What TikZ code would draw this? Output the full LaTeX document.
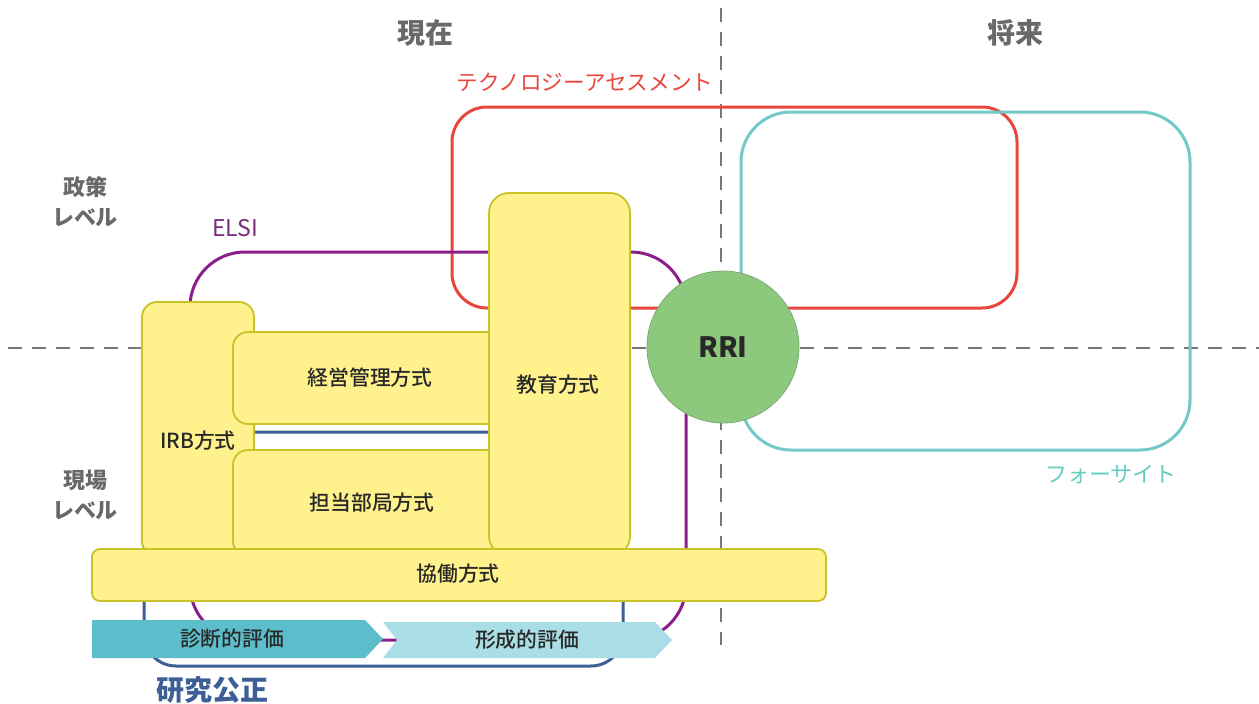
\documentclass[tikz,border=0pt]{standalone}
\usepackage{fontspec}
\newfontfamily\jp{Noto Sans CJK JP}
\newfontfamily\jpm{Noto Sans CJK JP Medium}
\definecolor{axisgray}{RGB}{120,120,120}
\definecolor{labgray}{RGB}{105,105,105}
\definecolor{tared}{RGB}{232,70,60}
\definecolor{fsteal}{RGB}{115,200,200}
\definecolor{fslab}{RGB}{100,205,190}
\definecolor{elsipurple}{RGB}{140,30,140}
\definecolor{elsilab}{RGB}{120,45,120}
\definecolor{riblue}{RGB}{60,95,150}
\definecolor{yfill}{RGB}{255,242,140}
\definecolor{yborder}{RGB}{200,195,40}
\definecolor{rrigreen}{RGB}{141,201,125}
\definecolor{rriborder}{RGB}{125,170,115}
\definecolor{chevdark}{RGB}{92,190,202}
\definecolor{chevlight}{RGB}{170,222,230}
\definecolor{txtdark}{RGB}{40,40,40}
\begin{document}
\begin{tikzpicture}[x=1pt,y=-1pt,
  axisline/.style={draw=axisgray, line width=2.6pt, dash pattern=on 14pt off 10pt},
  frame/.style={line width=3pt, inner sep=0pt, outer sep=0pt},
  ybox/.style={draw=yborder, fill=yfill, line width=1.8pt, inner sep=0pt, outer sep=0pt},
  boxtext/.style={font=\jpm\fontsize{20.8}{24}\selectfont, text=txtdark, inner sep=0pt},
  axlabel/.style={font=\jp\bfseries\fontsize{28}{32}\selectfont, text=labgray, inner sep=0pt},
  levlabel/.style={font=\jp\bfseries\fontsize{22}{30}\selectfont, text=labgray, align=center, inner sep=0pt}
]
\useasboundingbox (0,0) rectangle (1259,704);
\fill[white] (0,0) rectangle (1259,704);

% dashed axes
\coordinate (hl) at (8,348);
\coordinate (hr) at (1259,348);
\coordinate (vt) at (721,8);
\coordinate (vb) at (721,645);
\draw[axisline] (hl) -- (hr);
\draw[axisline] (vt) -- (vb);

% frames
\node[frame, draw=tared, rounded corners=35pt, minimum width=565pt, minimum height=201pt] (ta) at (734.5,207.5) {};
\node[frame, draw=fsteal, rounded corners=50pt, minimum width=449pt, minimum height=338pt] (fs) at (965.5,281) {};
\node[frame, draw=elsipurple, rounded corners=55pt, minimum width=496pt, minimum height=388pt] (elsi) at (438,446) {};
\node[frame, draw=riblue, rounded corners=32pt, minimum width=479pt, minimum height=234pt] (ri) at (383.5,549) {};

% yellow boxes
\node[ybox, rounded corners=15pt, minimum width=112pt, minimum height=254pt] (irb) at (198,429) {};
\node[ybox, rounded corners=15pt, minimum width=277pt, minimum height=92pt] (keiei) at (371.5,378) {};
\node[ybox, rounded corners=15pt, minimum width=277pt, minimum height=106pt] (tanto) at (371.5,503) {};
\node[ybox, rounded corners=20pt, minimum width=141pt, minimum height=363pt] (kyoiku) at (559.5,374.5) {};
\node[ybox, rounded corners=8pt, minimum width=734pt, minimum height=52pt] (kyodo) at (459,575) {};

\node[boxtext] (irbt) at (198,441) {IRB方式};
\node[boxtext] (keieit) at (370,378) {経営管理方式};
\node[boxtext] (tantot) at (372,503) {担当部局方式};
\node[boxtext] (kyoikut) at (558,385) {教育方式};
\node[boxtext] (kyodot) at (458,574) {協働方式};

% RRI
\node[circle, fill=rrigreen, draw=rriborder, line width=0.8pt, minimum size=152pt, inner sep=0pt,
  font=\jp\bfseries\fontsize{28}{32}\selectfont, text=txtdark] (rri) at (723,347) {RRI};

% evaluation chevrons
\fill[chevdark] (92,620) -- (365,620) -- (383,639) -- (365,658) -- (92,658) -- cycle;
\fill[chevlight] (383,622) -- (655,622) -- (672,640) -- (655,658) -- (383,658) -- (397,640) -- cycle;
\node[boxtext] (shindan) at (232,639) {診断的評価};
\node[boxtext] (keisei) at (527,640) {形成的評価};

% labels
\node[axlabel] (genzai) at (425,33) {現在};
\node[axlabel] (shorai) at (1015,33) {将来};
\node[levlabel] (seisaku) at (85,202) {政策\\レベル};
\node[levlabel] (genba) at (85,495) {現場\\レベル};
\node[font=\jp\fontsize{23}{26}\selectfont, text=elsilab, inner sep=0pt] (elsil) at (235,228) {ELSI};
\node[font=\jp\fontsize{21.6}{26}\selectfont, text=tared, inner sep=0pt] (tal) at (585,82) {テクノロジーアセスメント};
\node[font=\jp\fontsize{22}{26}\selectfont, text=fslab, inner sep=0pt] (fsl) at (1111,475) {フォーサイト};
\node[font=\jp\bfseries\fontsize{28}{32}\selectfont, text=riblue, inner sep=0pt] (ril) at (212,690) {研究公正};
\end{tikzpicture}
\end{document}
